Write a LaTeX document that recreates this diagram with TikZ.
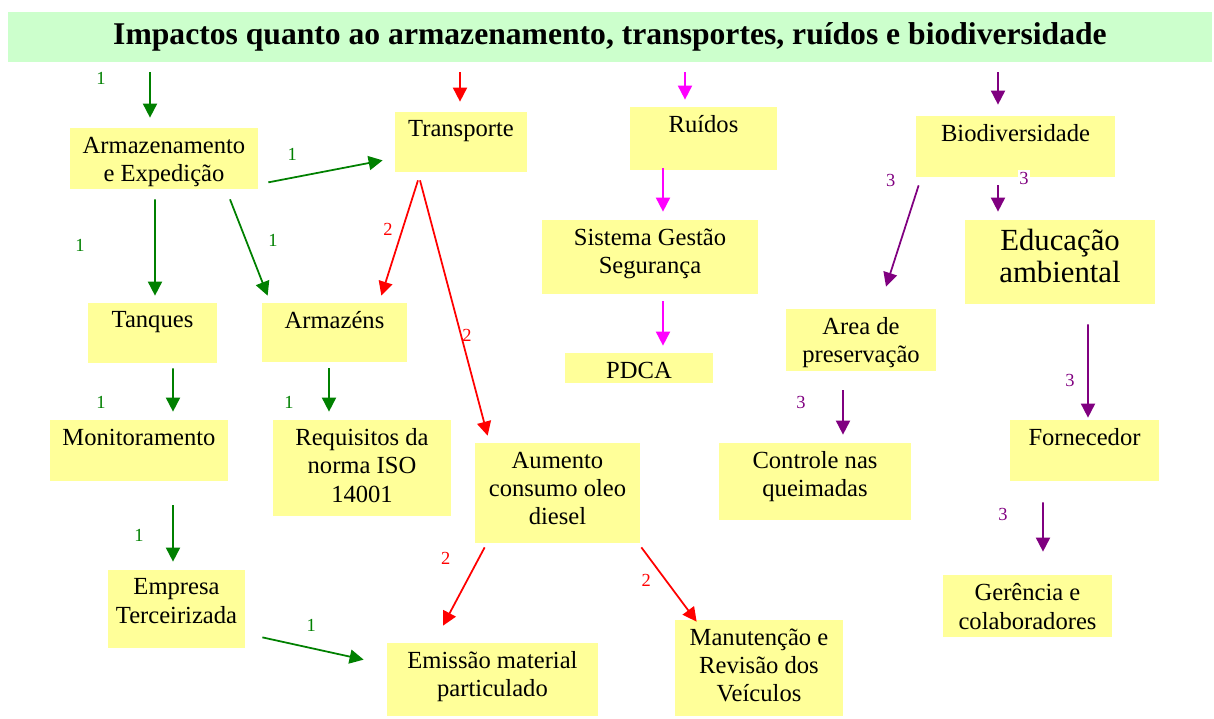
\documentclass[tikz,border=0pt]{standalone}
\usepackage{fontspec}
\setmainfont{Liberation Serif}
\usetikzlibrary{arrows.meta,calc}
\definecolor{boxyellow}{RGB}{255,255,153}
\definecolor{titlegreen}{RGB}{204,255,204}
\definecolor{arrgreen}{RGB}{0,128,0}
\definecolor{arrpurple}{RGB}{128,0,128}
\definecolor{arrmagenta}{RGB}{255,0,255}
\tikzset{
  box/.style 2 args={fill=boxyellow, inner sep=0pt, minimum width=#1*0.02cm, minimum height=#2*0.02cm},
  intext/.style={anchor=north, align=center, inner sep=5pt, font=\fontsize{14}{16}\selectfont},
  bigtext/.style={anchor=north, align=center, inner sep=5pt, font=\fontsize{17.5}{18.5}\selectfont},
  arr/.style={line width=1pt, -{Triangle[length=8pt,width=8pt]}},
  garr/.style={arr, arrgreen},
  rarr/.style={arr, red},
  marr/.style={arr, arrmagenta},
  parr/.style={arr, arrpurple},
  num/.style={font=\fontsize{10.5}{10.5}\selectfont, inner sep=1pt},
}
\begin{document}
\begin{tikzpicture}[x=0.02cm,y=-0.02cm]
\useasboundingbox (0,0) rectangle (1214,718);
% title bar
\node[fill=titlegreen, inner sep=0pt, minimum width=1204*0.02cm, minimum height=50*0.02cm,
  font=\bfseries\fontsize{18}{20}\selectfont] (title) at (610,37)
  {Impactos quanto ao armazenamento, transportes, ruídos e biodiversidade};

% boxes
\node[box={188}{61}, label={[intext]north:{Armazenamento\\e Expedição}}] (armexp) at (164,158.5) {};
\node[box={132}{60}, label={[intext]north:Transporte}] (transp) at (461,142) {};
\node[box={147}{63}, label={[intext]north:Ruídos}] (ruidos) at (703.5,138.5) {};
\node[box={199}{61}, label={[intext]north:Biodiversidade}] (biodiv) at (1015.5,146.5) {};
\node[box={216}{74}, label={[intext]north:{Sistema Gestão\\Segurança}}] (sgs) at (650,257) {};
\node[box={148}{30}, label={[intext]north:PDCA}] (pdca) at (639,368) {};
\node[box={150}{62}, label={[intext]north:{Area de\\preservação}}] (areapres) at (861,340) {};
\node[box={190}{84}, label={[bigtext]north:{Educação\\ambiental}}] (educ) at (1060,262) {};
\node[box={129}{60}, label={[intext]north:Tanques}] (tanques) at (152.5,333) {};
\node[box={145}{59}, label={[intext]north:Armazéns}] (armazens) at (334.5,332.5) {};
\node[box={178}{61}, label={[intext]north:Monitoramento}] (monit) at (139,450.5) {};
\node[box={178}{96}, label={[intext]north:{Requisitos da\\norma ISO\\14001}}] (requis) at (362,468) {};
\node[box={165}{100}, label={[intext]north:{Aumento\\consumo oleo\\diesel}}] (aumento) at (557.5,493) {};
\node[box={192}{77}, label={[intext]north:{Controle nas\\queimadas}}] (controle) at (815,481.5) {};
\node[box={149}{61}, label={[intext]north:Fornecedor}] (fornec) at (1084.5,450.5) {};
\node[box={137}{78}, label={[intext]north:{Empresa\\Terceirizada}}] (empresa) at (176.5,609) {};
\node[box={211}{73}, label={[intext]north:{Emissão material\\particulado}}] (emissao) at (492.5,679.5) {};
\node[box={168}{96}, label={[intext]north:{Manutenção e\\Revisão dos\\Veículos}}] (manut) at (759,668) {};
\node[box={169}{62}, label={[intext]north:{Gerência e\\colaboradores}}] (gerencia) at (1027.5,606) {};

% armazenamento (1)
\draw[garr] ($(title.south -| armexp.north)+(-14,10)$) -- node[num, pos=0, shift={(-49,6)}] {1} ($(armexp.north)+(-14,-10)$);
\draw[garr] ($(armexp.south east)+(10,-7)$) -- node[num, pos=0, shift={(24,-28)}] {1} ($(transp.south west)+(-12,-12)$);
\draw[garr] ($(armexp.south)+(-9,10)$) -- node[num, pos=0, shift={(-75,46)}] {1} ($(tanques.north)+(2.5,-7)$);
\draw[garr] ($(armexp.south)+(66,10)$) -- node[num, pos=0, shift={(43,41)}] {1} ($(armazens.north west)+(6,-7)$);
\draw[garr] ($(tanques.south)+(20.5,5)$) -- node[num, pos=0, shift={(-72,34)}] {1} ($(monit.north)+(34,-8)$);
\draw[garr] ($(armazens.south)+(-5.5,6)$) -- node[num, pos=0, shift={(-40,34)}] {1} ($(requis.north)+(-33,-8)$);
\draw[garr] ($(monit.south)+(34,24)$) -- node[num, pos=0, shift={(-34,30)}] {1} ($(empresa.north)+(-3.5,-8)$);
\draw[garr] ($(empresa.south east)+(17,-11)$) -- node[num, pos=0, shift={(49,-12)}] {1} ($(emissao.north west)+(-23,17)$);

% transportes (2)
\draw[rarr] ($(title.south -| transp.north)+(-1,10)$) -- ($(transp.north)+(-1,-10)$);
\draw[rarr] ($(transp.south)+(-43,8)$) -- node[num, pos=0, shift={(-30,49)}] {2} ($(armazens.north east)+(-26,-7)$);
\draw[rarr] ($(transp.south)+(-41,8)$) -- node[num, pos=0, shift={(47,155)}] {2} ($(aumento.north west)+(13,-7)$);
\draw[rarr] ($(aumento.south west)+(10,4)$) -- node[num, pos=0, shift={(-39,11)}] {2} ($(emissao.north)+(-49.5,-17)$);
\draw[rarr] ($(aumento.south east)+(1,4)$) -- node[num, pos=0, shift={(5,33)}] {2} ($(manut.north west)+(22,2)$);

% ruidos
\draw[marr] ($(title.south -| ruidos.north)+(-18.5,10)$) -- ($(ruidos.north)+(-18.5,-7)$);
\draw[marr] ($(ruidos.south)+(-40.5,-2)$) -- ($(sgs.north)+(13,-8)$);
\draw[marr] ($(sgs.south)+(13,7)$) -- ($(pdca.north)+(24,-7)$);

% biodiversidade (3)
\draw[parr] ($(title.south -| biodiv.north)+(-17.5,10)$) -- ($(biodiv.north)+(-17.5,-11)$);
\draw[parr] ($(biodiv.south west)+(3,8)$) -- node[num, pos=0, shift={(-28,-5)}] {3} ($(areapres.north)+(25,-22)$);
\draw[parr] ($(biodiv.south)+(-17.5,8)$) -- node[num, pos=0, shift={(26,-7)}, fill=white] {3} ($(educ.north)+(-62,-8)$);
\draw[parr] ($(areapres.south)+(-18,19)$) -- node[num, pos=0, shift={(-42,12)}] {3} ($(controle.north)+(28,-8)$);
\draw[parr] ($(educ.south)+(28,20)$) -- node[num, pos=0, shift={(-18,56)}] {3} ($(fornec.north)+(3.5,-2)$);
\draw[parr] ($(fornec.south)+(-41.5,21)$) -- node[num, pos=0, shift={(-40,12)}] {3} ($(gerencia.north)+(15.5,-23)$);
\end{tikzpicture}
\end{document}
